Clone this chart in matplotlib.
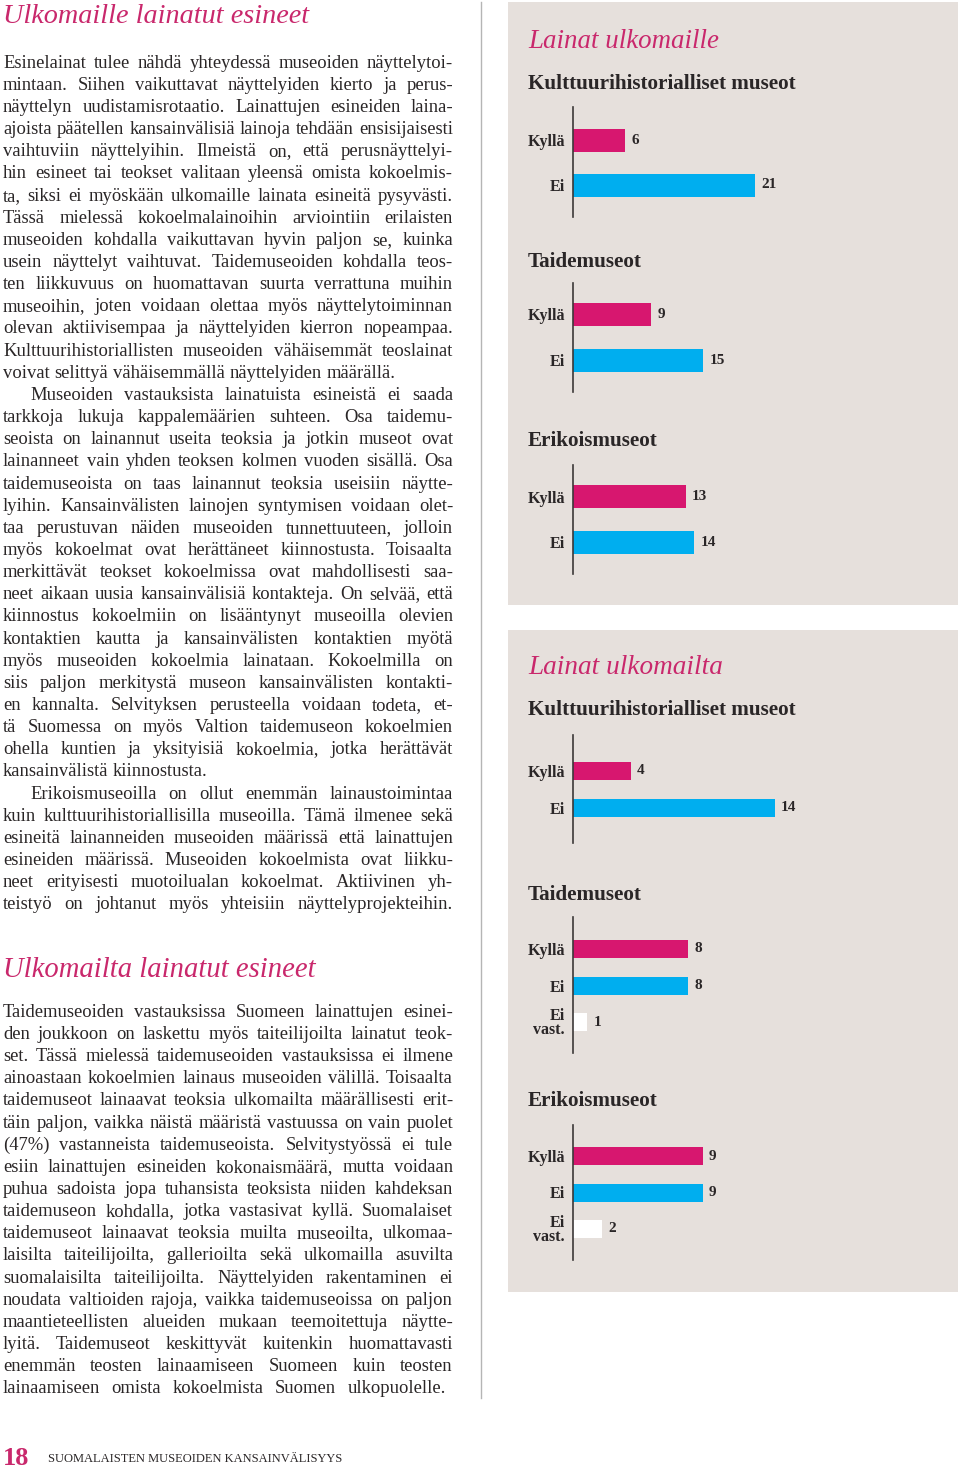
import matplotlib
matplotlib.use('Agg')
import matplotlib.pyplot as plt
from matplotlib.patches import Rectangle
from matplotlib.lines import Line2D

# ---------------- data ----------------
sec1_title = "Ulkomaille lainatut esineet"
sec1_lines = [
    "Esinelainat tulee nähdä yhteydessä museoiden näyttelytoi-",
    "mintaan. Siihen vaikuttavat näyttelyiden kierto ja perus-",
    "näyttelyn uudistamisrotaatio. Lainattujen esineiden laina-",
    "ajoista päätellen kansainvälisiä lainoja tehdään ensisijaisesti",
    "vaihtuviin näyttelyihin. Ilmeistä on, että perusnäyttelyi-",
    "hin esineet tai teokset valitaan yleensä omista kokoelmis-",
    "ta, siksi ei myöskään ulkomaille lainata esineitä pysyvästi.",
    "Tässä mielessä kokoelmalainoihin arviointiin erilaisten",
    "museoiden kohdalla vaikuttavan hyvin paljon se, kuinka",
    "usein näyttelyt vaihtuvat. Taidemuseoiden kohdalla teos-",
    "ten liikkuvuus on huomattavan suurta verrattuna muihin",
    "museoihin, joten voidaan olettaa myös näyttelytoiminnan",
    "olevan aktiivisempaa ja näyttelyiden kierron nopeampaa.",
    "Kulttuurihistoriallisten museoiden vähäisemmät teoslainat",
    "voivat selittyä vähäisemmällä näyttelyiden määrällä.",
    "Museoiden vastauksista lainatuista esineistä ei saada",
    "tarkkoja lukuja kappalemäärien suhteen. Osa taidemu-",
    "seoista on lainannut useita teoksia ja jotkin museot ovat",
    "lainanneet vain yhden teoksen kolmen vuoden sisällä. Osa",
    "taidemuseoista on taas lainannut teoksia useisiin näytte-",
    "lyihin. Kansainvälisten lainojen syntymisen voidaan olet-",
    "taa perustuvan näiden museoiden tunnettuuteen, jolloin",
    "myös kokoelmat ovat herättäneet kiinnostusta. Toisaalta",
    "merkittävät teokset kokoelmissa ovat mahdollisesti saa-",
    "neet aikaan uusia kansainvälisiä kontakteja. On selvää, että",
    "kiinnostus kokoelmiin on lisääntynyt museoilla olevien",
    "kontaktien kautta ja kansainvälisten kontaktien myötä",
    "myös museoiden kokoelmia lainataan. Kokoelmilla on",
    "siis paljon merkitystä museon kansainvälisten kontakti-",
    "en kannalta. Selvityksen perusteella voidaan todeta, et-",
    "tä Suomessa on myös Valtion taidemuseon kokoelmien",
    "ohella kuntien ja yksityisiä kokoelmia, jotka herättävät",
    "kansainvälistä kiinnostusta.",
    "Erikoismuseoilla on ollut enemmän lainaustoimintaa",
    "kuin kulttuurihistoriallisilla museoilla. Tämä ilmenee sekä",
    "esineitä lainanneiden museoiden määrissä että lainattujen",
    "esineiden määrissä. Museoiden kokoelmista ovat liikku-",
    "neet erityisesti muotoilualan kokoelmat. Aktiivinen yh-",
    "teistyö on johtanut myös yhteisiin näyttelyprojekteihin.",
]
sec1_indented = [15, 33]
sec1_ragged = [14, 32]

sec2_title = "Ulkomailta lainatut esineet"
sec2_lines = [
    "Taidemuseoiden vastauksissa Suomeen lainattujen esinei-",
    "den joukkoon on laskettu myös taiteilijoilta lainatut teok-",
    "set. Tässä mielessä taidemuseoiden vastauksissa ei ilmene",
    "ainoastaan kokoelmien lainaus museoiden välillä. Toisaalta",
    "taidemuseot lainaavat teoksia ulkomailta määrällisesti erit-",
    "täin paljon, vaikka näistä määristä vastuussa on vain puolet",
    "(47%) vastanneista taidemuseoista. Selvitystyössä ei tule",
    "esiin lainattujen esineiden kokonaismäärä, mutta voidaan",
    "puhua sadoista jopa tuhansista teoksista niiden kahdeksan",
    "taidemuseon kohdalla, jotka vastasivat kyllä. Suomalaiset",
    "taidemuseot lainaavat teoksia muilta museoilta, ulkomaa-",
    "laisilta taiteilijoilta, gallerioilta sekä ulkomailla asuvilta",
    "suomalaisilta taiteilijoilta. Näyttelyiden rakentaminen ei",
    "noudata valtioiden rajoja, vaikka taidemuseoissa on paljon",
    "maantieteellisten alueiden mukaan teemoitettuja näytte-",
    "lyitä. Taidemuseot keskittyvät kuitenkin huomattavasti",
    "enemmän teosten lainaamiseen Suomeen kuin teosten",
    "lainaamiseen omista kokoelmista Suomen ulkopuolelle.",
]
sec2_indented = []
sec2_ragged = []

panel1_title = "Lainat ulkomaille"
panel2_title = "Lainat ulkomailta"
group_titles = ["Kulttuurihistorialliset museot", "Taidemuseot", "Erikoismuseot"]

cats_2 = ["Kyllä", "Ei"]
cats_3 = ["Kyllä", "Ei", "Ei\nvast."]

out_kulttuuri = [6, 21]
out_taide = [9, 15]
out_erikois = [13, 14]

in_kulttuuri = [4, 14]
in_taide = [8, 8, 1]
in_erikois = [9, 9, 2]

page_number = "18"
footer_text = "SUOMALAISTEN MUSEOIDEN KANSAINVÄLISYYS"

# ---------------- style ----------------
W, H = 960, 1468
SERIF = 'Liberation Serif'
TXT = '#2a2627'
HEAD_PINK = '#c9286c'
PINK = '#d7176f'
BLUE = '#00aeef'
PANEL = '#e6e0dc'

fig = plt.figure(figsize=(W / 100, H / 100), dpi=100)
fig.patch.set_facecolor('white')
renderer = fig.canvas.get_renderer()


def fx(x):
    return x / W


def fy(y):
    return 1 - y / H


def text_width(s, size, weight='normal', style='normal'):
    t = fig.text(0, 0, s, fontsize=size, family=SERIF, weight=weight, style=style)
    w = t.get_window_extent(renderer).width
    t.remove()
    return w


def fit_text(x, baseline, s, width, color, weight='normal', style='normal'):
    size = 12 * width / text_width(s, 12, weight, style)
    fig.text(fx(x), fy(baseline), s, fontsize=size, family=SERIF, weight=weight,
             style=style, color=color, ha='left', va='baseline')
    return size


def body_size(blocks):
    ratios = []
    for lines, indented, ragged, left, right in blocks:
        for i, line in enumerate(lines):
            if i in ragged:
                continue
            avail = right - left - (27 if i in indented else 0)
            ratios.append(avail / text_width(line, 12))
    return 12 * min(ratios) * 0.995


def draw_block(lines, indented, ragged, left, right, base0, lead, size, last_right=None):
    space = text_width("a a", size) - text_width("aa", size)
    for i, line in enumerate(lines):
        x0 = left + (27 if i in indented else 0)
        r = right
        if last_right is not None and i == len(lines) - 1:
            r = last_right
        words = line.split(" ")
        widths = [text_width(w, size) for w in words]
        if i in ragged or len(words) == 1:
            gap = space
        else:
            gap = (r - x0 - sum(widths)) / (len(words) - 1)
            gap = max(gap, space * 0.5)
        x = x0
        y = base0 + i * lead
        for w, wd in zip(words, widths):
            fig.text(fx(x), fy(y), w, fontsize=size, family=SERIF, color=TXT,
                     ha='left', va='baseline')
            x += wd + gap


# ---------------- left column ----------------
bsize = body_size([
    (sec1_lines, sec1_indented, sec1_ragged, 3, 453),
    (sec2_lines, sec2_indented, sec2_ragged, 3, 453),
])
fit_text(3, 23, sec1_title, 306, HEAD_PINK, style='italic')
draw_block(sec1_lines, sec1_indented, sec1_ragged, 3, 453, 67.7, 22.15, bsize)
fit_text(3, 977, sec2_title, 312, HEAD_PINK, style='italic')
draw_block(sec2_lines, sec2_indented, sec2_ragged, 3, 453, 1016.8, 22.15, bsize,
           last_right=446)

# divider
fig.add_artist(Line2D([fx(481), fx(481)], [fy(2), fy(1398)], transform=fig.transFigure,
                      color='#b5b5b5', lw=1.0))

# footer
fig.text(fx(3), fy(1465), page_number, fontsize=19, family=SERIF, weight='bold',
         color=HEAD_PINK, ha='left', va='baseline')
fit_text(48, 1462, footer_text, 294, TXT)

# ---------------- right panels ----------------
for top, bottom in [(2, 605), (630, 1292)]:
    fig.add_artist(Rectangle((fx(508), fy(bottom)), (958 - 508) / W, (bottom - top) / H,
                             transform=fig.transFigure, facecolor=PANEL,
                             edgecolor='none', zorder=-5))

fit_text(528, 48.3, panel1_title, 191, HEAD_PINK, style='italic')
fit_text(528, 674, panel2_title, 195, HEAD_PINK, style='italic')

gsize = 12 * 267 / text_width(group_titles[0], 12, weight='bold')
for y, title in [(89.3, group_titles[0]), (266.7, group_titles[1]), (446, group_titles[2]),
                 (715, group_titles[0]), (900, group_titles[1]), (1105.7, group_titles[2])]:
    fig.text(fx(528), fy(y), title, fontsize=gsize, family=SERIF, weight='bold',
             color=TXT, ha='left', va='baseline')


def bar_chart(labels, values, top, bottom, c0, step, bar_h, scale):
    x0, x1 = 573, 950
    ax = fig.add_axes([fx(x0), fy(bottom), (x1 - x0) / W, (bottom - top) / H])
    ax.set_facecolor('none')
    colors = [PINK, BLUE, 'white'][:len(values)]
    ys = list(range(len(values)))
    bars = ax.barh(ys, values, height=bar_h / step, color=colors, edgecolor='none')
    ax.set_xlim(0, (x1 - x0) / scale)
    ax.set_ylim((bottom - c0) / step, (top - c0) / step)
    ax.bar_label(bars, labels=[str(v) for v in values], padding=4.5,
                 fontsize=11, fontfamily=SERIF, fontweight='bold', color=TXT)
    ax.set_yticks(ys)
    ax.set_yticklabels(labels, fontfamily=SERIF, fontweight='bold', fontsize=11.5,
                       color=TXT)
    for t in ax.get_yticklabels():
        t.set_multialignment('right')
        t.set_linespacing(0.85)
    ax.tick_params(axis='y', length=0, pad=5.8)
    ax.set_xticks([])
    for s in ['top', 'right', 'bottom']:
        ax.spines[s].set_visible(False)
    ax.spines['left'].set_color('#3c3838')
    ax.spines['left'].set_linewidth(1.2)
    return ax


S1, S2 = 8.67, 14.4
bar_chart(cats_2, out_kulttuuri, 107, 217, 140, 45, 23, S1)
bar_chart(cats_2, out_taide, 283, 392, 314.5, 45.5, 23, S1)
bar_chart(cats_2, out_erikois, 465, 574, 497, 45.5, 23, S1)
bar_chart(cats_2, in_kulttuuri, 735, 843, 771, 36.5, 18, S2)
bar_chart(cats_3, in_taide, 917, 1053, 949, 36.5, 18, S2)
bar_chart(cats_3, in_erikois, 1125, 1260, 1156, 36.5, 18, S2)

fig.savefig('out.png', dpi=100, facecolor='white')
